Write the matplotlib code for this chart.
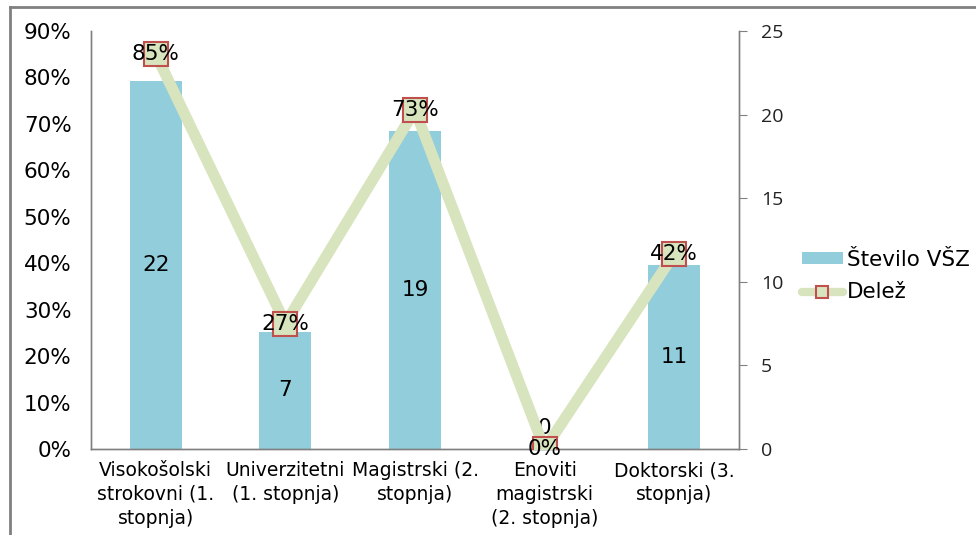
import matplotlib
matplotlib.use("Agg")
import matplotlib.pyplot as plt
from matplotlib.lines import Line2D
from matplotlib.patches import Patch

categories = ["Visokošolski\nstrokovni (1.\nstopnja)", "Univerzitetni\n(1. stopnja)",
              "Magistrski (2.\nstopnja)", "Enoviti\nmagistrski\n(2. stopnja)", "Doktorski (3.\nstopnja)"]
counts = [22, 7, 19, 0, 11]
shares = [0.85, 0.27, 0.73, 0.0, 0.42]
left_ticks = [0, 0.1, 0.2, 0.3, 0.4, 0.5, 0.6, 0.7, 0.8, 0.9]
left_labels = ["0%", "10%", "20%", "30%", "40%", "50%", "60%", "70%", "80%", "90%"]
right_ticks = [0, 5, 10, 15, 20, 25]
series_names = ["Število VŠZ", "Delež"]

BAR = "#92CDDC"
LINE = "#D7E4BD"
MEDGE = "#C0504D"
GRAY = "#808080"
FS = 15.5

plt.rcParams['font.family'] = ['DejaVu Sans']

fig = plt.figure(figsize=(9.76, 5.35), dpi=100)
ax = fig.add_axes([91/976, 1-449/535, (739-91)/976, (449-31)/535])
ax2 = ax.twinx()

x = list(range(len(categories)))
# bars on ax (right scale), line on ax2 (left scale)
ax.bar(x, counts, width=0.4, color=BAR, zorder=2)
ax.set_ylim(0, 25)
ax.set_xlim(-0.5, 4.5)
ax.yaxis.tick_right()
ax.set_yticks(right_ticks)
ax.set_yticklabels([str(t) for t in right_ticks], fontsize=14, family='Open Sans', color='#222222')
ax.tick_params(axis='y', direction='out', length=6, color=GRAY, pad=10)
ax.tick_params(axis='x', length=0, pad=9)
ax.set_xticks(x)
ax.set_xticklabels(categories, fontsize=13.5, linespacing=1.3)

for i, c in enumerate(counts):
    if c == 0:
        ax.annotate(str(c), (i, 0), xytext=(0, 15), textcoords='offset points',
                    ha='center', va='center', fontsize=FS, zorder=5)
    else:
        ax.text(i, c/2, str(c), ha='center', va='center', fontsize=FS, zorder=5)

ax2.plot(x, shares, color=LINE, lw=8, solid_capstyle='round', zorder=3,
         marker='s', markersize=17.5, markerfacecolor=LINE, markeredgecolor=MEDGE, markeredgewidth=1.5)
ax2.set_ylim(0, 0.9)
ax2.yaxis.tick_left()
ax2.set_yticks(left_ticks)
ax2.set_yticklabels(left_labels, fontsize=FS)
ax2.tick_params(axis='y', length=0, pad=14)
for i, s in enumerate(shares):
    ax2.text(i, s, f"{round(s*100)}%", ha='center', va='center', fontsize=FS, zorder=6)

for a in (ax, ax2):
    a.spines['top'].set_visible(False)
    for sp in ('left', 'right', 'bottom'):
        a.spines[sp].set_color(GRAY)
        a.spines[sp].set_linewidth(1)
ax2.spines['right'].set_visible(True)

handles = [Patch(facecolor=BAR, edgecolor='none'),
           Line2D([], [], color=LINE, lw=6, solid_capstyle='round', marker='s', markersize=9,
                  markerfacecolor=LINE, markeredgecolor=MEDGE, markeredgewidth=1.5)]
leg = fig.legend(handles, series_names, loc='center left', bbox_to_anchor=(802/976, 1-276/535),
                 frameon=False, fontsize=FS, handlelength=1.9, handleheight=0.5,
                 handletextpad=0.2, labelspacing=0.6, borderaxespad=0, borderpad=0)

# outer frame (left and top edges visible)
fig.add_artist(Line2D([9.5/976, 9.5/976], [0, 1-7/535], transform=fig.transFigure, color=GRAY, lw=2))
fig.add_artist(Line2D([9.5/976, 1], [1-7/535, 1-7/535], transform=fig.transFigure, color=GRAY, lw=2))

fig.savefig("out.png", dpi=100)
